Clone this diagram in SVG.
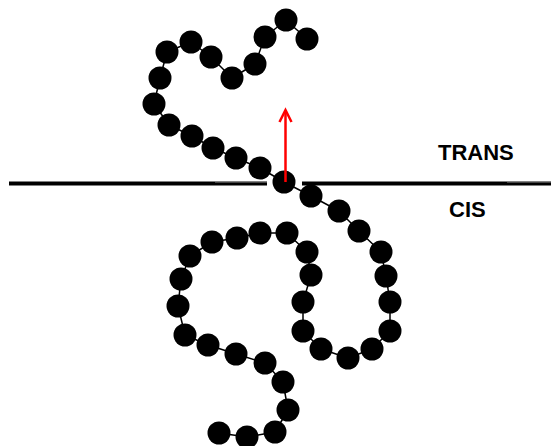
<svg xmlns="http://www.w3.org/2000/svg" width="551" height="446" viewBox="0 0 551 446">
  <defs>
    <style>
      .bead { fill: #000; }
      .link { fill: none; stroke: #000; stroke-width: 1.5; stroke-linejoin: round; }
      .membrane { fill: #000; }
      .membrane-thin { fill: #8a8a8a; }
      .label { font-family: "Liberation Sans", Arial, sans-serif; font-weight: bold; font-size: 22px; fill: #000; }
      .arrow { fill: none; stroke: #ff0000; stroke-width: 2.5; stroke-linecap: butt; stroke-linejoin: miter; }
    </style>
  </defs>

  <rect width="551" height="446" fill="#fff"/>

  <!-- membrane with a pore -->
  <g id="membrane">
    <rect class="membrane" x="9" y="181.5" width="258" height="4"/>
    <rect class="membrane-thin" x="215" y="181.5" width="52" height="1"/>
    <rect class="membrane" x="302" y="181.5" width="249" height="4"/>
    <rect class="membrane-thin" x="507" y="181.5" width="44" height="1"/>
  </g>

  <!-- bonds along the chain -->
  <g id="connectors">
    <polyline class="link" points="307,39 286,20 265,37 255,64 232,78 211,57 191,42 167,52 160,78 154,104 169,125 192,136 213,148 236,158 260,168 284,182 311,196 339,211 359,231 381,252 386,276 390,302 390,331 372,349 348,358 321,349 303,331 303,302 311,275 307,252 287,233 260,233 237,238 212,242 190,256 181,279 178,306 185,335 208,345 236,354 265,363 283,382 288,410 275,432 247,437 219,433"/>
  </g>

  <!-- monomers -->
  <g id="m1"><circle class="bead" cx="307" cy="39" r="11.5"/></g>
  <g id="m2"><circle class="bead" cx="286" cy="20" r="11.5"/></g>
  <g id="m3"><circle class="bead" cx="265" cy="37" r="11.5"/></g>
  <g id="m4"><circle class="bead" cx="255" cy="64" r="11.5"/></g>
  <g id="m5"><circle class="bead" cx="232" cy="78" r="11.5"/></g>
  <g id="m6"><circle class="bead" cx="211" cy="57" r="11.5"/></g>
  <g id="m7"><circle class="bead" cx="191" cy="42" r="11.5"/></g>
  <g id="m8"><circle class="bead" cx="167" cy="52" r="11.5"/></g>
  <g id="m9"><circle class="bead" cx="160" cy="78" r="11.5"/></g>
  <g id="m10"><circle class="bead" cx="154" cy="104" r="11.5"/></g>
  <g id="m11"><circle class="bead" cx="169" cy="125" r="11.5"/></g>
  <g id="m12"><circle class="bead" cx="192" cy="136" r="11.5"/></g>
  <g id="m13"><circle class="bead" cx="213" cy="148" r="11.5"/></g>
  <g id="m14"><circle class="bead" cx="236" cy="158" r="11.5"/></g>
  <g id="m15"><circle class="bead" cx="260" cy="168" r="11.5"/></g>
  <g id="m16"><circle class="bead" cx="284" cy="182" r="11.5"/></g>
  <g id="m17"><circle class="bead" cx="311" cy="196" r="11.5"/></g>
  <g id="m18"><circle class="bead" cx="339" cy="211" r="11.5"/></g>
  <g id="m19"><circle class="bead" cx="359" cy="231" r="11.5"/></g>
  <g id="m20"><circle class="bead" cx="381" cy="252" r="11.5"/></g>
  <g id="m21"><circle class="bead" cx="386" cy="276" r="11.5"/></g>
  <g id="m22"><circle class="bead" cx="390" cy="302" r="11.5"/></g>
  <g id="m23"><circle class="bead" cx="390" cy="331" r="11.5"/></g>
  <g id="m24"><circle class="bead" cx="372" cy="349" r="11.5"/></g>
  <g id="m25"><circle class="bead" cx="348" cy="358" r="11.5"/></g>
  <g id="m26"><circle class="bead" cx="321" cy="349" r="11.5"/></g>
  <g id="m27"><circle class="bead" cx="303" cy="331" r="11.5"/></g>
  <g id="m28"><circle class="bead" cx="303" cy="302" r="11.5"/></g>
  <g id="m29"><circle class="bead" cx="311" cy="275" r="11.5"/></g>
  <g id="m30"><circle class="bead" cx="307" cy="252" r="11.5"/></g>
  <g id="m31"><circle class="bead" cx="287" cy="233" r="11.5"/></g>
  <g id="m32"><circle class="bead" cx="260" cy="233" r="11.5"/></g>
  <g id="m33"><circle class="bead" cx="237" cy="238" r="11.5"/></g>
  <g id="m34"><circle class="bead" cx="212" cy="242" r="11.5"/></g>
  <g id="m35"><circle class="bead" cx="190" cy="256" r="11.5"/></g>
  <g id="m36"><circle class="bead" cx="181" cy="279" r="11.5"/></g>
  <g id="m37"><circle class="bead" cx="178" cy="306" r="11.5"/></g>
  <g id="m38"><circle class="bead" cx="185" cy="335" r="11.5"/></g>
  <g id="m39"><circle class="bead" cx="208" cy="345" r="11.5"/></g>
  <g id="m40"><circle class="bead" cx="236" cy="354" r="11.5"/></g>
  <g id="m41"><circle class="bead" cx="265" cy="363" r="11.5"/></g>
  <g id="m42"><circle class="bead" cx="283" cy="382" r="11.5"/></g>
  <g id="m43"><circle class="bead" cx="288" cy="410" r="11.5"/></g>
  <g id="m44"><circle class="bead" cx="275" cy="432" r="11.5"/></g>
  <g id="m45"><circle class="bead" cx="247" cy="437" r="11.5"/></g>
  <g id="m46"><circle class="bead" cx="219" cy="433" r="11.5"/></g>

  <!-- translocation direction -->
  <g id="direction">
    <line class="arrow" x1="285.5" y1="182" x2="285.5" y2="110"/>
    <polyline class="arrow" points="279.5,122 285.5,110 291.5,122"/>
  </g>

  <!-- side labels -->
  <g id="trans-label"><text class="label" x="438" y="160">TRANS</text></g>
  <g id="cis-label"><text class="label" x="449" y="217">CIS</text></g>
</svg>
